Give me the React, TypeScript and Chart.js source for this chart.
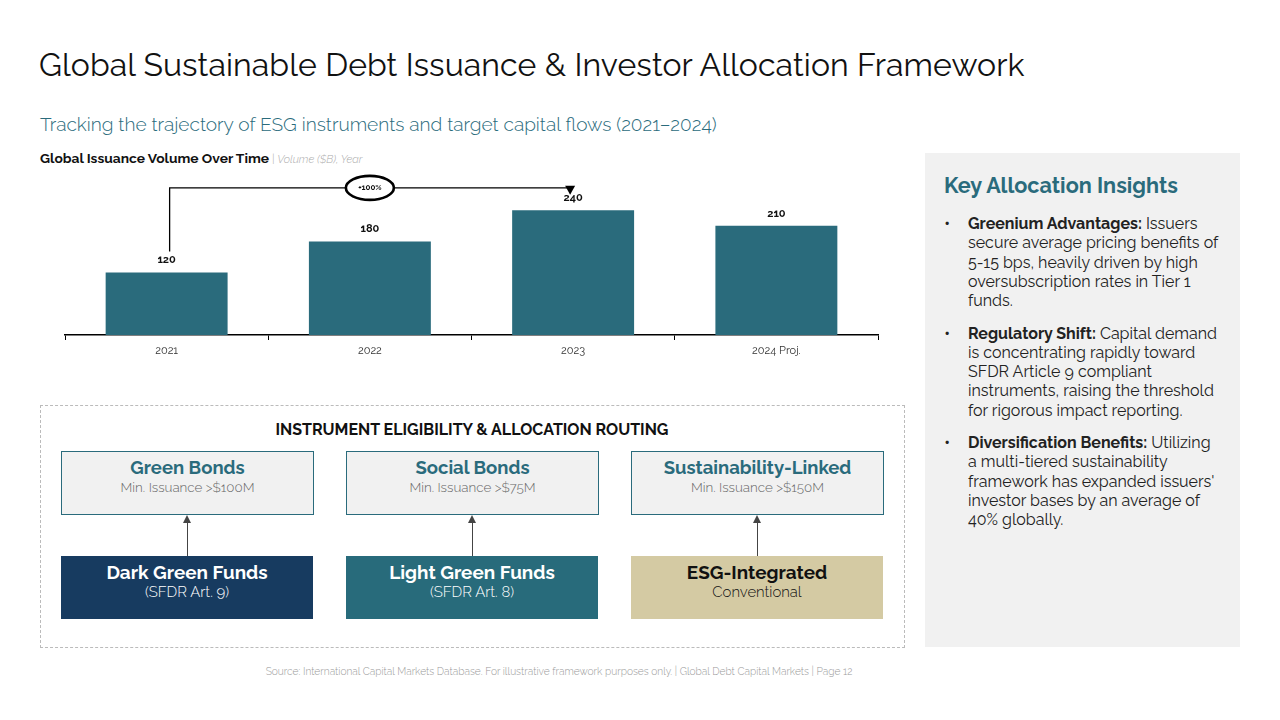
import React, { useEffect, useRef } from "react";
import { Chart, registerables } from "chart.js";

Chart.register(...registerables);

// Issuance volume by year ($B)
const years = ["2021", "2022", "2023", "2024 Proj."];
const volumes = [120, 180, 240, 210];
const yMax = 300;

// Growth bracket between two years
const growthFromIndex = 0;
const growthToIndex = 2;
const growthLabel = "+100%";
const bracketLevel = 283;

// Instrument tiers and the investor pools routed to them
const instrumentNames = ["Green Bonds", "Social Bonds", "Sustainability-Linked"];
const instrumentMinimums = ["Min. Issuance >$100M", "Min. Issuance >$75M", "Min. Issuance >$150M"];
const fundNames = ["Dark Green Funds", "Light Green Funds", "ESG-Integrated"];
const fundNotes = ["(SFDR Art. 9)", "(SFDR Art. 8)", "Conventional"];
const fundFills = ["#173b60", "#286b7b", "#d4caa3"];
const fundTextColors = ["#ffffff", "#ffffff", "#111111"];

const insightHeads = ["Greenium Advantages:", "Regulatory Shift:", "Diversification Benefits:"];
const insightLines = [
  [" Issuers", "secure average pricing benefits of", "5-15 bps, heavily driven by high", "oversubscription rates in Tier 1", "funds."],
  [" Capital demand", "is concentrating rapidly toward", "SFDR Article 9 compliant", "instruments, raising the threshold", "for rigorous impact reporting."],
  [" Utilizing", "a multi-tiered sustainability", "framework has expanded issuers'", "investor bases by an average of", "40% globally."],
];

const FONT = "Raleway, Lato, 'Open Sans', sans-serif";
const TEAL = "#2a6b7c";

const barAnnotations = {
  id: "barAnnotations",
  afterDatasetsDraw(chart: any) {
    const { ctx } = chart;
    const meta = chart.getDatasetMeta(0);
    const yScale = chart.scales.y;
    ctx.save();
    // value labels
    ctx.font = `bold 11px ${FONT}`;
    ctx.fillStyle = "#111";
    ctx.textAlign = "center";
    ctx.textBaseline = "bottom";
    meta.data.forEach((el: any, i: number) => {
      ctx.fillText(String(volumes[i]), el.x, el.y - 7);
    });

    // growth bracket
    const a = meta.data[growthFromIndex];
    const b = meta.data[growthToIndex];
    const yLine = yScale.getPixelForValue(bracketLevel);
    ctx.strokeStyle = "#000";
    ctx.lineWidth = 1.3;
    ctx.beginPath();
    ctx.moveTo(a.x + 3, a.y - 21);
    ctx.lineTo(a.x + 3, yLine);
    ctx.lineTo(b.x - 3, yLine);
    ctx.stroke();
    ctx.fillStyle = "#000";
    ctx.beginPath();
    ctx.moveTo(b.x - 8, yLine - 2);
    ctx.lineTo(b.x + 2, yLine - 2);
    ctx.lineTo(b.x - 3, yLine + 7);
    ctx.closePath();
    ctx.fill();

    const mx = (a.x + b.x) / 2;
    ctx.beginPath();
    ctx.ellipse(mx, yLine, 24, 12, 0, 0, Math.PI * 2);
    ctx.fillStyle = "#fff";
    ctx.fill();
    ctx.lineWidth = 2.6;
    ctx.stroke();
    ctx.fillStyle = "#111";
    ctx.font = `bold 8px ${FONT}`;
    ctx.textBaseline = "middle";
    ctx.fillText(growthLabel, mx, yLine);
    ctx.restore();
  },
};

function IssuanceChart() {
  const ref = useRef<HTMLCanvasElement>(null);
  useEffect(() => {
    if (!ref.current) return;
    const chart = new Chart(ref.current, {
      type: "bar",
      data: {
        labels: years,
        datasets: [
          {
            data: volumes,
            backgroundColor: TEAL,
            categoryPercentage: 0.6,
            barPercentage: 1,
          },
        ],
      },
      options: {
        responsive: false,
        animation: false,
        devicePixelRatio: 1,
        layout: { padding: { left: 25, right: 22, top: 9, bottom: 0 } },
        plugins: { legend: { display: false }, tooltip: { enabled: false } },
        scales: {
          x: {
            offset: true,
            grid: {
              display: true,
              offset: true,
              drawOnChartArea: false,
              drawTicks: true,
              tickLength: 5,
              color: "#000",
              lineWidth: 1,
            },
            border: { display: true, color: "#000", width: 1.5 },
            ticks: { color: "#333", font: { family: FONT, size: 11 }, padding: 4 },
            afterFit(scale: any) {
              scale.height = 35;
            },
          },
          y: { display: false, min: 0, max: yMax },
        },
      },
      plugins: [barAnnotations],
    } as any);
    return () => chart.destroy();
  }, []);
  return (
    <canvas
      ref={ref}
      width={860}
      height={200}
      style={{ position: "absolute", left: 40, top: 170, width: 860, height: 200 }}
    />
  );
}

export default function App() {
  const boxLefts = [61, 346, 631];
  return (
    <div
      style={{
        position: "fixed",
        left: 0,
        top: 0,
        width: 1280,
        height: 720,
        background: "#fff",
        fontFamily: FONT,
        overflow: "hidden",
      }}
    >
      <div style={{ position: "absolute", left: 39, top: 46, fontSize: 32, color: "#111", whiteSpace: "nowrap", letterSpacing: 0.1 }}>
        Global Sustainable Debt Issuance &amp; Investor Allocation Framework
      </div>
      <div style={{ position: "absolute", left: 40, top: 113, fontSize: 19.1, color: TEAL, whiteSpace: "nowrap", fontWeight: 300 }}>
        Tracking the trajectory of ESG instruments and target capital flows (2021–2024)
      </div>
      <div style={{ position: "absolute", left: 40, top: 150, fontSize: 13.8, color: "#111", whiteSpace: "nowrap" }}>
        <b>Global Issuance Volume Over Time</b>
        <span style={{ fontSize: 11, color: "#aaa", fontStyle: "italic", fontWeight: 300 }}> | Volume ($B), Year</span>
      </div>

      <IssuanceChart />

      {/* routing framework */}
      <div style={{ position: "absolute", left: 40, top: 405, width: 865, height: 243, border: "1px dashed #bbb", boxSizing: "border-box" }} />
      <div style={{ position: "absolute", left: 40, width: 864, top: 420, textAlign: "center", fontWeight: 700, fontSize: 16, color: "#111" }}>
        INSTRUMENT ELIGIBILITY &amp; ALLOCATION ROUTING
      </div>
      {boxLefts.map((x, i) => (
        <React.Fragment key={i}>
          <div
            style={{
              position: "absolute",
              left: x,
              top: 451,
              width: 253,
              height: 64,
              boxSizing: "border-box",
              background: "#f1f1f1",
              border: `1px solid ${TEAL}`,
              textAlign: "center",
            }}
          >
            <div style={{ marginTop: 5, fontSize: 18.5, lineHeight: "22px", fontWeight: 700, color: TEAL }}>{instrumentNames[i]}</div>
            <div style={{ marginTop: 0, fontSize: 13.4, lineHeight: "16px", color: "#666", fontWeight: 300 }}>{instrumentMinimums[i]}</div>
          </div>
          <div style={{ position: "absolute", left: x + 126, top: 522, width: 1.3, height: 34, background: "#444" }} />
          <div
            style={{
              position: "absolute",
              left: x + 122,
              top: 515,
              width: 0,
              height: 0,
              borderLeft: "4px solid transparent",
              borderRight: "4px solid transparent",
              borderBottom: "8px solid #444",
            }}
          />
          <div
            style={{
              position: "absolute",
              left: x,
              top: 556,
              width: 252,
              height: 63,
              background: fundFills[i],
              color: fundTextColors[i],
              textAlign: "center",
            }}
          >
            <div style={{ marginTop: 5, fontSize: 18.9, lineHeight: "22px", fontWeight: 700 }}>{fundNames[i]}</div>
            <div style={{ fontSize: 14.9, lineHeight: "17px", fontWeight: 300 }}>{fundNotes[i]}</div>
          </div>
        </React.Fragment>
      ))}

      {/* insights panel */}
      <div style={{ position: "absolute", left: 925, top: 153, width: 315, height: 494, background: "#f1f1f1" }}>
        <div style={{ position: "absolute", left: 19, top: 20, fontSize: 21.6, fontWeight: 700, color: TEAL, whiteSpace: "nowrap" }}>
          Key Allocation Insights
        </div>
        {insightHeads.map((h, i) => (
          <div key={i} style={{ position: "absolute", left: 18, top: 61 + i * 109.5, fontSize: 16, lineHeight: "19.3px", color: "#222", whiteSpace: "nowrap" }}>
            <span style={{ position: "absolute", left: 1, top: 0, fontSize: 18 }}>•</span>
            <div style={{ marginLeft: 25 }}>
              {insightLines[i].map((line, j) => (
                <div key={j}>
                  {j === 0 && <b>{h}</b>}
                  <span style={{ fontWeight: 400 }}>{line}</span>
                </div>
              ))}
            </div>
          </div>
        ))}
      </div>

      <div style={{ position: "absolute", left: 0, width: 1118, top: 665, textAlign: "center", fontSize: 10.2, color: "#999", fontWeight: 300, whiteSpace: "nowrap" }}>
        Source: International Capital Markets Database. For illustrative framework purposes only. | Global Debt Capital Markets | Page 12
      </div>
    </div>
  );
}
